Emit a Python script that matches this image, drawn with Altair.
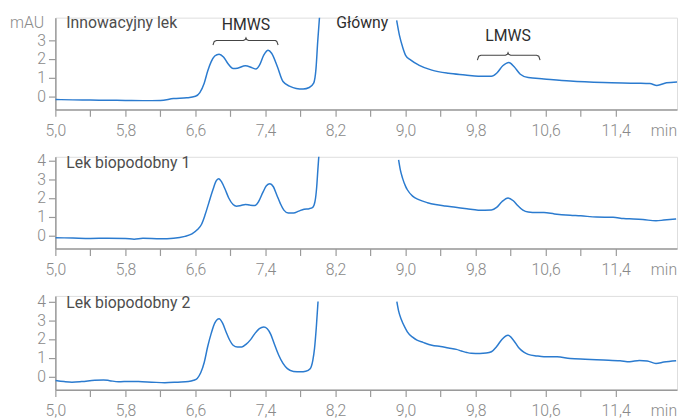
import altair as alt
import pandas as pd

# ---------------- data ----------------
# Panel 1: Innowacyjny lek
p1_lt = [5.00, 5.20, 5.40, 5.60, 5.80, 6.00, 6.20, 6.35, 6.50, 6.60, 6.65, 6.70, 6.74, 6.78,
         6.82, 6.87, 6.92, 6.97, 7.03, 7.08, 7.17, 7.25, 7.29, 7.33, 7.38, 7.43, 7.47, 7.536,
         7.60, 7.68, 7.75, 7.83, 7.90, 7.95, 7.977, 7.996, 8.018]
p1_lv = [-0.17, -0.19, -0.20, -0.21, -0.22, -0.23, -0.22, -0.12, -0.08, 0.0, 0.2, 0.7, 1.35, 1.85,
         2.15, 2.25, 2.10, 1.75, 1.48, 1.50, 1.63, 1.52, 1.46, 1.65, 2.20, 2.46, 2.30, 1.58,
         0.79, 0.53, 0.42, 0.39, 0.47, 0.70, 1.49, 2.90, 4.30]
p1_rt = [8.898, 8.93, 8.966, 9.00, 9.06, 9.15, 9.30, 9.49, 9.68, 9.83, 9.98, 10.04, 10.11, 10.18,
         10.24, 10.31, 10.40, 10.58, 10.88, 11.26, 11.64, 11.79, 11.87, 11.98, 12.10]
p1_rv = [4.05, 3.25, 2.63, 2.19, 1.93, 1.67, 1.40, 1.23, 1.14, 1.07, 1.07, 1.23, 1.63, 1.81,
         1.58, 1.18, 1.00, 0.93, 0.82, 0.74, 0.70, 0.68, 0.58, 0.72, 0.77]

# Panel 2: Lek biopodobny 1
p2_lt = [5.00, 5.20, 5.40, 5.60, 5.80, 5.90, 6.00, 6.20, 6.35, 6.48, 6.56, 6.62, 6.67, 6.71,
         6.75, 6.80, 6.835, 6.865, 6.90, 6.94, 6.98, 7.03, 7.07, 7.12, 7.17, 7.22, 7.28, 7.32,
         7.37, 7.41, 7.45, 7.49, 7.53, 7.57, 7.61, 7.66, 7.72, 7.78, 7.84, 7.90, 7.94, 7.965,
         7.985, 7.998, 8.01]
p2_lv = [-0.12, -0.14, -0.16, -0.15, -0.16, -0.20, -0.15, -0.18, -0.15, -0.05, 0.08, 0.30, 0.60, 1.10,
         1.70, 2.45, 2.90, 3.03, 2.85, 2.45, 2.00, 1.65, 1.56, 1.60, 1.65, 1.62, 1.60, 1.80,
         2.30, 2.65, 2.76, 2.60, 2.15, 1.70, 1.35, 1.20, 1.20, 1.30, 1.40, 1.43, 1.50, 1.80,
         2.60, 3.50, 4.30]
p2_rt = [8.92, 8.94, 8.965, 9.00, 9.02, 9.08, 9.15, 9.25, 9.34, 9.45, 9.57, 9.70, 9.83, 9.98,
         10.04, 10.10, 10.17, 10.23, 10.28, 10.34, 10.40, 10.50, 10.58, 10.70, 10.88, 11.00,
         11.18, 11.37, 11.49, 11.60, 11.71, 11.86, 11.95, 12.09]
p2_rv = [4.04, 3.50, 3.06, 2.62, 2.44, 2.10, 1.91, 1.75, 1.65, 1.57, 1.50, 1.42, 1.35, 1.36,
         1.50, 1.80, 2.00, 1.85, 1.60, 1.35, 1.25, 1.22, 1.22, 1.15, 1.08, 1.05,
         0.98, 0.97, 0.90, 0.88, 0.85, 0.78, 0.82, 0.88]

# Panel 3: Lek biopodobny 2
p3_lt = [5.00, 5.10, 5.19, 5.30, 5.45, 5.55, 5.62, 5.72, 5.85, 5.95, 6.10, 6.25, 6.40, 6.52,
         6.58, 6.62, 6.66, 6.70, 6.74, 6.78, 6.82, 6.87, 6.91, 6.95, 6.99, 7.03, 7.08, 7.13,
         7.18, 7.23, 7.28, 7.33, 7.38, 7.42, 7.46, 7.50, 7.55, 7.60, 7.65, 7.72, 7.80, 7.86,
         7.91, 7.94, 7.96, 7.98, 8.00]
p3_lv = [-0.21, -0.27, -0.30, -0.27, -0.20, -0.18, -0.22, -0.28, -0.26, -0.27, -0.30, -0.33, -0.30, -0.27,
         -0.20, -0.10, 0.20, 0.75, 1.60, 2.30, 2.85, 3.08, 2.85, 2.38, 1.95, 1.67, 1.57, 1.58,
         1.73, 1.97, 2.30, 2.55, 2.64, 2.55, 2.25, 1.75, 1.15, 0.70, 0.42, 0.27, 0.25, 0.28,
         0.42, 0.85, 1.50, 2.60, 4.00]
p3_rt = [8.90, 8.92, 8.95, 9.00, 9.02, 9.08, 9.13, 9.20, 9.30, 9.40, 9.49, 9.58, 9.64, 9.70,
         9.75, 9.85, 9.92, 9.98, 10.04, 10.10, 10.17, 10.23, 10.29, 10.35, 10.40, 10.50, 10.58,
         10.73, 10.88, 11.05, 11.26, 11.45, 11.56, 11.67, 11.76, 11.86, 11.95, 12.09]
p3_rv = [4.00, 3.50, 3.05, 2.55, 2.38, 2.10, 1.94, 1.82, 1.67, 1.60, 1.52, 1.45, 1.36, 1.28,
         1.24, 1.23, 1.25, 1.32, 1.60, 1.98, 2.20, 1.95, 1.55, 1.30, 1.18, 1.10, 1.06,
         1.05, 0.96, 0.92, 0.88, 0.84, 0.79, 0.86, 0.83, 0.70, 0.77, 0.84]

panel_titles = ["Innowacyjny lek", "Lek biopodobny 1", "Lek biopodobny 2"]
title_t = [5.125, 5.125, 5.125]
title_v = [3.63, 3.59, 3.64]

peak_labels = ["HMWS", "LMWS"]
peak_t = [7.177, 10.17]
peak_v = [3.54, 2.93]

main_label = ["Główny"]
main_t = [8.207]
main_v = [3.65]

# braces (annotation outline, data units)
hm_t = [6.80, 6.815, 6.84, 7.147, 7.169, 7.177, 7.185, 7.207, 7.514, 7.529, 7.544]
hm_v = [2.74, 2.93, 2.98, 2.98, 3.03, 3.12, 3.03, 2.98, 2.98, 2.93, 2.74]
lm_t = [9.82, 9.835, 9.86, 10.14, 10.162, 10.17, 10.178, 10.20, 10.496, 10.521, 10.536]
lm_v = [1.93, 2.14, 2.19, 2.19, 2.24, 2.33, 2.24, 2.19, 2.19, 2.14, 1.93]

x_ticks = [5.0, 5.4, 5.8, 6.2, 6.6, 7.0, 7.4, 7.8, 8.2, 8.6, 9.0, 9.4, 9.8, 10.2, 10.6, 11.0, 11.4]
y_ticks_top = [0, 1, 2, 3]
y_ticks = [0, 1, 2, 3, 4]

X_DOMAIN = [5.0, 12.1]
Y_DOMAINS = [[-0.7, 4.2], [-0.7, 4.2], [-0.7, 4.3]]
HEIGHTS = [93, 93, 95]

BLUE = "#2b7bcf"
FONT = "Roboto"
LIGHT_FONT = "Roboto Light, Roboto"
AXIS_GREY = "#9a9a9a"
LABEL_GREY = "#8a8a8a"


def seg_df(lt, lv, rt, rv):
    return pd.DataFrame({
        "t": lt + rt,
        "v": lv + rv,
        "seg": ["a"] * len(lt) + ["b"] * len(rt),
    })


def panel(df, idx, yticks, top=False):
    x = alt.X(
        "t:Q",
        scale=alt.Scale(domain=X_DOMAIN, nice=False, zero=False),
        axis=alt.Axis(
            values=x_ticks,
            labelExpr="(round(datum.value*10) - 50) % 8 == 0 ? replace(format(datum.value, '.1f'), '.', ',') : ''",
            title="min",
            titleX=603, titleY=26, titleAlign="left", titleBaseline="alphabetic",
            titleFont=LIGHT_FONT, titleFontSize=16, titleFontWeight=300, titleColor=LABEL_GREY,
            grid=False, domainColor=AXIS_GREY, domainWidth=1.5, tickColor=AXIS_GREY,
            tickWidth=1.2, tickSize=7, labelPadding=6, labelFont=LIGHT_FONT, labelFontSize=16,
            labelFontWeight=300, labelColor=LABEL_GREY, labelOverlap=False, labelFlush=False,
        ),
    )
    yaxis_kwargs = dict(
        values=yticks, grid=False, domainColor=AXIS_GREY, domainWidth=1.5, tickColor=AXIS_GREY,
        tickWidth=1.2, tickSize=7, labelPadding=3, labelFont=LIGHT_FONT, labelFontSize=16,
        labelFontWeight=300, labelColor=LABEL_GREY,
    )
    if top:
        yaxis_kwargs.update(
            title="mAU", titleAngle=0, titleX=-12, titleY=10, titleAlign="right",
            titleBaseline="alphabetic", titleFont=LIGHT_FONT, titleFontSize=16,
            titleFontWeight=300, titleColor=LABEL_GREY,
        )
    else:
        yaxis_kwargs.update(title=None)
    y = alt.Y("v:Q", scale=alt.Scale(domain=Y_DOMAINS[idx], nice=False, zero=False),
              axis=alt.Axis(**yaxis_kwargs))

    line = alt.Chart(df).mark_line(
        color=BLUE, strokeWidth=1.5, interpolate="monotone", clip=True
    ).encode(detail="seg:N")

    tdf = pd.DataFrame({"t": [title_t[idx]], "v": [title_v[idx]], "label": [panel_titles[idx]]})
    ttl = alt.Chart(tdf).mark_text(
        align="left", baseline="alphabetic", font=FONT, fontSize=16, color="#4d4d4d"
    ).encode(text="label:N")

    layers = [line, ttl]
    if top:
        pdf = pd.DataFrame({"t": peak_t, "v": peak_v, "label": peak_labels})
        layers.append(alt.Chart(pdf).mark_text(
            align="center", baseline="alphabetic", font=FONT, fontSize=16,
            color="#2e2e2e").encode(text="label:N"))
        mdf = pd.DataFrame({"t": main_t, "v": main_v, "label": main_label})
        layers.append(alt.Chart(mdf).mark_text(
            align="left", baseline="alphabetic", font=FONT, fontSize=16,
            color="#2e2e2e").encode(text="label:N"))
        bdf = pd.DataFrame({
            "t": hm_t + lm_t,
            "v": hm_v + lm_v,
            "seg": ["h"] * len(hm_t) + ["l"] * len(lm_t),
            "o": list(range(len(hm_t))) + list(range(len(lm_t))),
        })
        layers.append(alt.Chart(bdf).mark_line(
            color="#444444", strokeWidth=1.1, interpolate="linear"
        ).encode(detail="seg:N", order="o:Q"))

    return alt.layer(*layers).encode(x=x, y=y).properties(width=630, height=HEIGHTS[idx])


c1 = panel(seg_df(p1_lt, p1_lv, p1_rt, p1_rv), 0, y_ticks_top, top=True)
c2 = panel(seg_df(p2_lt, p2_lv, p2_rt, p2_rv), 1, y_ticks)
c3 = panel(seg_df(p3_lt, p3_lv, p3_rt, p3_rv), 2, y_ticks)

chart = alt.vconcat(c1, c2, c3, spacing=48, bounds="flush").properties(
    padding={"left": 0, "top": 3, "right": 0, "bottom": 0}
).configure_view(stroke=None).configure(background="white")

chart.save("out.html", embed_options={"renderer": "svg", "actions": False})
